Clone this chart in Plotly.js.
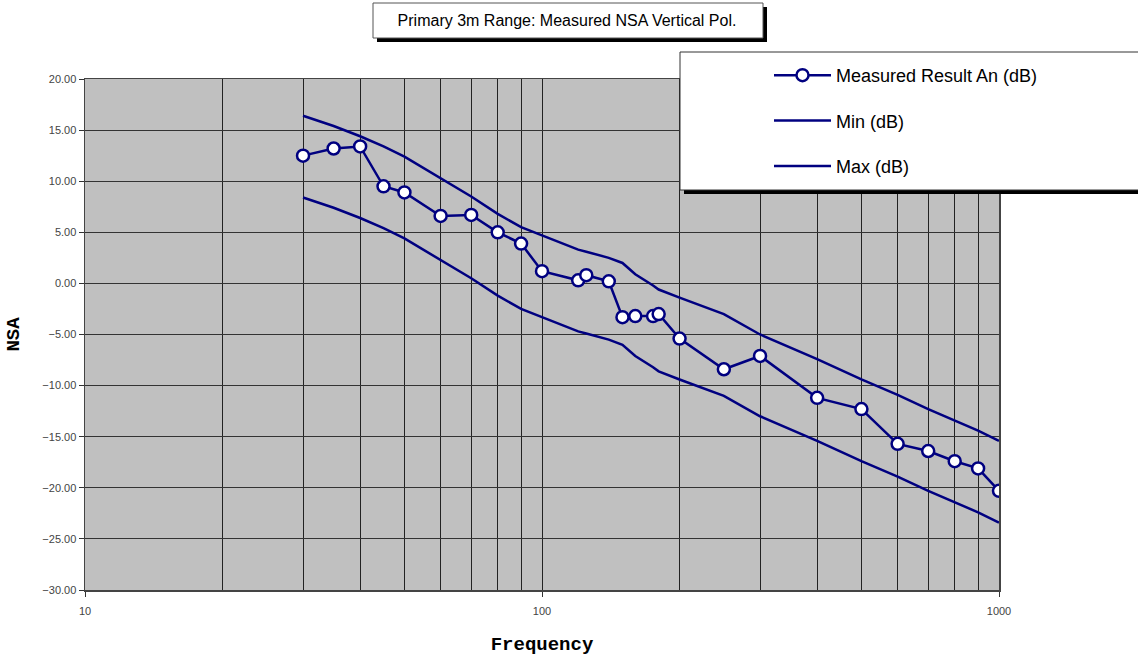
<!DOCTYPE html>
<html>
<head>
<meta charset="utf-8">
<script src="https://cdn.plot.ly/plotly-3.0.1.min.js"></script>
<style>html,body{margin:0;padding:0;background:#fff;}#chart{width:1138px;height:662px;}</style>
</head>
<body>
<div id="chart"></div>
<script>
// Frequencies (MHz)
const freq = [30,35,40,45,50,60,70,80,90,100,120,125,140,150,160,175,180,200,250,300,400,500,600,700,800,900,1000];
// Measured NSA (dB)
const measured = [12.5,13.2,13.4,9.5,8.9,6.6,6.7,5.0,3.9,1.2,0.3,0.8,0.2,-3.3,-3.2,-3.2,-3.0,-5.4,-8.4,-7.1,-11.2,-12.3,-15.7,-16.4,-17.4,-18.1,-20.3];
// Lower limit (dB)
const minLimit = [8.4,7.4,6.4,5.4,4.4,2.3,0.5,-1.2,-2.5,-3.3,-4.7,-4.9,-5.5,-6.0,-7.1,-8.2,-8.6,-9.4,-11.0,-13.0,-15.4,-17.4,-18.9,-20.3,-21.4,-22.4,-23.4];
// Upper limit (dB)
const maxLimit = [16.4,15.4,14.4,13.4,12.4,10.3,8.5,6.8,5.5,4.7,3.3,3.1,2.5,2.0,0.9,-0.2,-0.6,-1.4,-3.0,-5.0,-7.4,-9.4,-10.9,-12.3,-13.4,-14.4,-15.4];
const seriesNames = ['Measured Result An (dB)','Min (dB)','Max (dB)'];
const titleText = 'Primary 3m Range: Measured NSA Vertical Pol.';
const yTicks = [-30,-25,-20,-15,-10,-5,0,5,10,15,20];
const xTicks = [10,100,1000];

const navy = '#000080';
const traces = [
  {x: freq, y: measured, name: seriesNames[0], type: 'scatter', mode: 'lines+markers', legendgroup: 'a',
   line: {color: navy, width: 2.5}, marker: {symbol: 'circle', size: 12, color: '#ffffff', line: {color: navy, width: 2.5}}},
  {x: freq, y: minLimit, name: seriesNames[1], type: 'scatter', mode: 'lines', legendgroup: 'b',
   line: {color: navy, width: 2.5}},
  {x: freq, y: maxLimit, name: seriesNames[2], type: 'scatter', mode: 'lines', legendgroup: 'c',
   line: {color: navy, width: 2.5}}
];

const W = 914, H = 511, L = 85, T = 79;
function px(x){ return (x - L) / W; }
function py(y){ return (T + H - y) / H; }

const layout = {
  width: 1138, height: 662,
  margin: {l: 85, r: 139, t: 79, b: 72},
  paper_bgcolor: '#ffffff',
  plot_bgcolor: '#c0c0c0',
  showlegend: true,
  title: {text: titleText, x: 567/1138, xref: 'container', xanchor: 'center', y: 1 - 20/662, yref: 'container', yanchor: 'middle',
          font: {family: 'Liberation Sans, Arial, sans-serif', size: 16, color: '#000'}},
  xaxis: {
    type: 'log', range: [1, 3], tickvals: xTicks, ticktext: xTicks.map(String),
    ticks: 'outside', ticklen: 5, tickcolor: '#333', ticklabelstandoff: 5,
    showgrid: true, gridcolor: '#222', gridwidth: 1,
    minor: {dtick: 'D1', showgrid: true, gridcolor: '#222', gridwidth: 1, ticks: ''},
    showline: true, linecolor: '#444', linewidth: 1.5, mirror: true,
    zeroline: false,
    tickfont: {family: 'Liberation Sans, Arial, sans-serif', size: 11, color: '#444'},
    title: {text: '<b>Frequency</b>', standoff: 21, font: {family: 'Liberation Mono, Courier New, monospace', size: 19, color: '#000'}}
  },
  yaxis: {
    range: [-30, 20], tickvals: yTicks, tickformat: '.2f',
    ticks: 'outside', ticklen: 5, tickcolor: '#333',
    showgrid: true, gridcolor: '#333', gridwidth: 1,
    showline: true, linecolor: '#444', linewidth: 1.5, mirror: true,
    zeroline: false,
    tickfont: {family: 'Liberation Sans, Arial, sans-serif', size: 11, color: '#444'},
    title: {text: '<b>NSA</b>', standoff: 17, font: {family: 'Liberation Mono, Courier New, monospace', size: 19, color: '#000'}}
  },
  legend: {
    x: px(769), y: py(57), xanchor: 'left', yanchor: 'top',
    bgcolor: 'rgba(0,0,0,0)', borderwidth: 0,
    traceorder: 'grouped', tracegroupgap: 19, itemwidth: 57,
    font: {family: 'Liberation Sans, Arial, sans-serif', size: 18, color: '#000'}
  },
  shapes: [
    // title box shadow + box
    {type: 'rect', xref: 'paper', yref: 'paper', x0: px(377), x1: px(767), y0: py(42), y1: py(7), layer: 'above',
     fillcolor: '#000', line: {width: 0}},
    {type: 'rect', xref: 'paper', yref: 'paper', x0: px(373), x1: px(763), y0: py(38), y1: py(3), layer: 'above',
     fillcolor: '#fff', line: {color: '#555', width: 1}},
    // legend box shadow + box
    {type: 'rect', xref: 'paper', yref: 'paper', x0: px(684), x1: px(1142), y0: py(194), y1: py(56), layer: 'above',
     fillcolor: '#000', line: {width: 0}},
    {type: 'rect', xref: 'paper', yref: 'paper', x0: px(680), x1: px(1140), y0: py(190), y1: py(52), layer: 'above',
     fillcolor: '#fff', line: {color: '#333', width: 1}}
  ]
};

Plotly.newPlot('chart', traces, layout, {displayModeBar: false, staticPlot: true});
</script>
</body>
</html>
